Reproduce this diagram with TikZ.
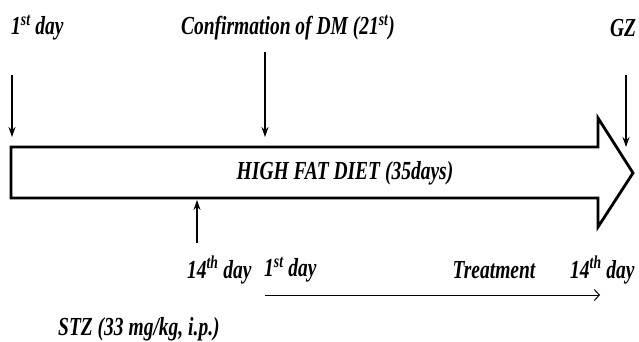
\documentclass[tikz,border=0pt]{standalone}
\usepackage{fontspec}
\usepackage{graphicx}
\setmainfont{Liberation Serif}
\usetikzlibrary{arrows.meta}
\newcommand{\tx}[1]{\scalebox{0.75}[1]{\bfseries\itshape #1}}
\begin{document}
\begin{tikzpicture}[x=1pt,y=-1pt,
  lbl/.style={inner sep=0pt,font=\fontsize{26}{30}\selectfont},
  darr/.style={line width=1.2pt,-{Stealth[length=10pt,width=7pt]}},
  bigarrow/.style={line width=2.8pt,line join=miter,fill=white}]
\useasboundingbox (0,0) rectangle (639,342);
% big arrow
\draw[bigarrow] (11,147) -- (598,147) -- (598,118) -- (633,173) -- (598,227) -- (598,198) -- (11,198) -- cycle;
\node[lbl] (hfd) at (345,173) {\tx{HIGH FAT DIET (35days)}};
% top labels
\node[lbl,anchor=west] (d1) at (11,28) {\tx{1\textsuperscript{st} day}};
\node[lbl] (conf) at (288,28) {\tx{Confirmation of DM (21\textsuperscript{st})}};
\node[lbl] (gz) at (623,28) {\tx{GZ}};
% bottom labels
\node[lbl,anchor=west] (d14) at (187,270) {\tx{14\textsuperscript{th} day}};
\node[lbl,anchor=west] (t1) at (264,270) {\tx{1\textsuperscript{st} day}};
\node[lbl] (trt) at (494,270) {\tx{Treatment}};
\node[lbl,anchor=west] (t14) at (570,270) {\tx{14\textsuperscript{th} day}};
\node[lbl,anchor=west] (stz) at (58,329) {\tx{STZ (33 mg/kg, i.p.)}};
% arrow end points
\coordinate (a1s) at (12,75);
\coordinate (a1e) at (12,137);
\coordinate (a2s) at (265,52);
\coordinate (a2e) at (265,137);
\coordinate (a3s) at (626,75);
\coordinate (a3e) at (626,147);
\coordinate (a4s) at (197,243);
\coordinate (a4e) at (197,200);
\coordinate (ts) at (265,295);
\coordinate (te) at (600,295);
\draw[darr] (a1s) -- (a1e);
\draw[darr] (a2s) -- (a2e);
\draw[darr] (a3s) -- (a3e);
\draw[darr] (a4s) -- (a4e);
\draw[line width=1pt,-{Straight Barb[length=5pt,width=11pt]}] (ts) -- (te);
\end{tikzpicture}
\end{document}
